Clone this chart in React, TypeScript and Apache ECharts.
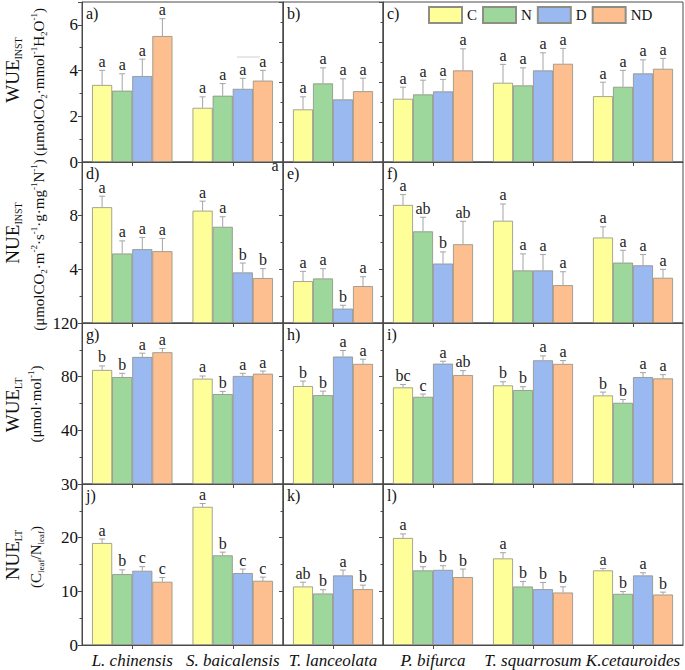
import React, { useEffect, useRef } from 'react';
import * as echarts from 'echarts';

const FONT = '"Liberation Serif", "Times New Roman", serif';

const categories = ['L. chinensis', 'S. baicalensis', 'T. lanceolata', 'P. bifurca', 'T. squarrosum', 'K.cetauroides'];
const treatments = ['C', 'N', 'D', 'ND'];
const treatmentColors = ['#FFFF99', '#9DD79C', '#9BB9F1', '#FDBF8F'];
const panelLabels = ['a)', 'b)', 'c)', 'd)', 'e)', 'f)', 'g)', 'h)', 'i)', 'j)', 'k)', 'l)'];

// rows of each array: C, N, D, ND ; columns follow `categories`
const wueInstMeans = [
  [3.37, 2.37, 2.63, 3.16, 3.96, 3.29],
  [3.12, 2.9, 3.93, 3.38, 3.83, 3.76],
  [3.76, 3.2, 3.13, 3.53, 4.58, 4.43],
  [5.51, 3.56, 3.54, 4.58, 4.91, 4.66],
];
const wueInstErrors = [
  [0.64, 0.48, 0.63, 0.58, 0.92, 0.7],
  [0.74, 0.53, 0.78, 0.71, 0.88, 0.82],
  [0.74, 0.46, 1.03, 0.6, 0.88, 0.68],
  [0.76, 0.45, 0.65, 1.08, 0.77, 0.52],
];
const wueInstLetters = [
  ['a', 'a', 'a', 'a', 'a', 'a'],
  ['a', 'a', 'a', 'a', 'a', 'a'],
  ['a', 'a', 'a', 'a', 'a', 'a'],
  ['a', 'a', 'a', 'a', 'a', 'a'],
];

const nueInstMeans = [
  [8.63, 8.37, 3.12, 8.8, 7.62, 6.37],
  [5.18, 7.17, 3.32, 6.83, 3.92, 4.5],
  [5.5, 3.77, 1.07, 4.43, 3.92, 4.3],
  [5.35, 3.35, 2.75, 5.87, 2.82, 3.37],
];
const nueInstErrors = [
  [0.82, 0.71, 0.73, 0.77, 1.25, 0.8],
  [0.94, 0.75, 0.73, 1.05, 1.23, 0.92],
  [0.88, 0.7, 0.25, 0.87, 1.18, 0.8],
  [0.95, 0.7, 0.7, 1.71, 1.0, 0.63],
];
const nueInstLetters = [
  ['a', 'a', 'a', 'a', 'a', 'a'],
  ['a', 'a', 'a', 'ab', 'a', 'a'],
  ['a', 'b', 'b', 'b', 'a', 'a'],
  ['a', 'b', 'a', 'ab', 'a', 'a'],
];

const wueLtMeans = [
  [85, 78.5, 73, 72, 73.5, 66],
  [79.7, 67, 66.2, 65, 70, 60.5],
  [94.7, 80.5, 95, 89.7, 92.2, 79.7],
  [98.2, 82.2, 89.5, 81.2, 89.5, 78.7],
];
const wueLtErrors = [
  [3, 2, 3.7, 2.2, 2.7, 2.5],
  [2.8, 2, 3, 2, 2.5, 2.5],
  [2.8, 2, 4.5, 1.8, 3.3, 3.3],
  [2.8, 2, 3.5, 3.3, 2.5, 2.8],
];
const wueLtLetters = [
  ['b', 'a', 'b', 'bc', 'b', 'b'],
  ['b', 'b', 'b', 'c', 'b', 'b'],
  ['a', 'a', 'a', 'a', 'a', 'a'],
  ['a', 'a', 'a', 'ab', 'a', 'a'],
];

const nueLtMeans = [
  [19.0, 25.74, 10.9, 19.94, 16.13, 13.9],
  [13.2, 16.7, 9.6, 13.9, 10.9, 9.53],
  [13.83, 13.4, 12.96, 14.0, 10.4, 12.96],
  [11.78, 11.96, 10.4, 12.65, 9.78, 9.4],
];
const nueLtErrors = [
  [0.75, 0.62, 0.8, 0.76, 1.07, 0.36],
  [0.8, 0.6, 0.7, 0.68, 0.94, 0.43],
  [0.77, 0.75, 1.0, 0.77, 1.25, 0.5],
  [0.8, 0.69, 0.75, 1.5, 1.06, 0.45],
];
const nueLtLetters = [
  ['a', 'a', 'ab', 'a', 'a', 'a'],
  ['b', 'b', 'b', 'b', 'b', 'b'],
  ['c', 'c', 'a', 'b', 'b', 'a'],
  ['c', 'c', 'b', 'b', 'b', 'b'],
];

// y tick labels per row (value -> text)
const wueInstTickLabels: Record<number, string> = { 0: '0', 2: '2', 4: '4', 6: '6' };
const nueInstTickLabels: Record<number, string> = { 4: '4', 8: '8' };
const wueLtTickLabels: Record<number, string> = { 0: '30', 40: '40', 80: '80', 120: '120' };
const nueLtTickLabels: Record<number, string> = { 0: '0', 10: '10', 20: '20' };

const metrics = [
  { means: wueInstMeans, errors: wueInstErrors, letters: wueInstLetters, ticks: wueInstTickLabels },
  { means: nueInstMeans, errors: nueInstErrors, letters: nueInstLetters, ticks: nueInstTickLabels },
  { means: wueLtMeans, errors: wueLtErrors, letters: wueLtLetters, ticks: wueLtTickLabels },
  { means: nueLtMeans, errors: nueLtErrors, letters: nueLtLetters, ticks: nueLtTickLabels },
];

// layout
const colCats = [[0, 1], [2], [3, 4, 5]];
const colLeft = [82, 283, 383];
const colWidth = [201, 100, 300];
const rowTop = [2, 162, 323, 484];
const rowHeight = [160, 161, 161, 161];
const rowMax = [[7, 8, 8], [12, 12, 12], [120, 120, 120], [30, 30, 30]];
const rowInterval = [2, 4, 40, 10];

const AXIS = '#4a4a4a';
const ERR = '#a4a4a4';

function titleRich(main: number, small: number) {
  return {
    m: { fontSize: main, fontFamily: FONT, lineHeight: main + 4, fill: '#111' },
    n: { fontSize: small, fontFamily: FONT, lineHeight: small + 4, fill: '#111' },
    s: { fontSize: Math.round(main * 0.55), fontFamily: FONT, lineHeight: Math.round(main * 0.55), verticalAlign: 'bottom', fill: '#111' },
    t: { fontSize: 9, fontFamily: FONT, lineHeight: 9, verticalAlign: 'bottom', fill: '#111' },
    p: { fontSize: 9, fontFamily: FONT, lineHeight: 9, verticalAlign: 'top', fill: '#111' },
  };
}

export default function App() {
  const ref = useRef<HTMLDivElement>(null);
  useEffect(() => {
    if (!ref.current) return;
    const chart = echarts.init(ref.current, undefined, { renderer: 'svg' });
    const grid: any[] = [];
    const xAxis: any[] = [];
    const yAxis: any[] = [];
    const series: any[] = [];
    const graphic: any[] = [];

    for (let r = 0; r < 4; r++) {
      for (let c = 0; c < 3; c++) {
        const g = r * 3 + c;
        const met = metrics[r];
        grid.push({
          left: colLeft[c], top: rowTop[r], width: colWidth[c], height: rowHeight[r],
          show: true, borderColor: AXIS, borderWidth: 1, containLabel: false,
        });
        xAxis.push({
          type: 'category', gridIndex: g,
          data: colCats[c].map((i) => categories[i]),
          axisLine: { show: true, lineStyle: { color: AXIS, width: 1 } },
          axisTick: { show: true, alignWithLabel: true, length: 4, lineStyle: { color: AXIS } },
          axisLabel: { show: r === 3, interval: 0, fontFamily: FONT, fontStyle: 'italic', fontSize: 17, color: '#111', margin: 7 },
          splitLine: { show: false },
        });
        yAxis.push({
          type: 'value', gridIndex: g, min: 0, max: rowMax[r][c], interval: rowInterval[r],
          axisLine: { show: true, lineStyle: { color: AXIS, width: 1 } },
          axisTick: { show: true, length: 4, lineStyle: { color: AXIS } },
          minorTick: { show: true, splitNumber: 2, length: 2.5, lineStyle: { color: AXIS } },
          axisLabel: {
            show: c === 0, fontFamily: FONT, fontSize: 17, color: '#111', margin: 4,
            showMinLabel: true, showMaxLabel: true,
            formatter: (v: number) => met.ticks[v] ?? '',
          },
          splitLine: { show: false },
          minorSplitLine: { show: false },
        });
        for (let k = 0; k < 4; k++) {
          series.push({
            type: 'bar', name: treatments[k], xAxisIndex: g, yAxisIndex: g,
            data: colCats[c].map((i) => met.means[k][i]),
            barGap: '0%', barCategoryGap: '20%',
            itemStyle: { color: treatmentColors[k], borderColor: '#8e8e84', borderWidth: 0.8 },
            silent: true,
          });
        }
        const items: number[][] = [];
        const letters: string[] = [];
        colCats[c].forEach((ci, j) => {
          for (let k = 0; k < 4; k++) {
            items.push([j, k, met.means[k][ci], met.means[k][ci] + met.errors[k][ci]]);
            letters.push(met.letters[k][ci]);
          }
        });
        series.push({
          type: 'custom', xAxisIndex: g, yAxisIndex: g, silent: true, z: 5,
          data: items,
          encode: { x: 0, y: [2, 3] },
          renderItem: (params: any, api: any) => {
            const j = api.value(0);
            const k = api.value(1);
            const m = api.value(2);
            const t = api.value(3);
            const base = api.coord([j, m]);
            const top = api.coord([j, t]);
            const band = api.size([1, 0])[0];
            const bw = (band * 0.8) / 4;
            const x = base[0] + (k - 1.5) * bw;
            return {
              type: 'group',
              children: [
                { type: 'line', shape: { x1: x, y1: base[1], x2: x, y2: top[1] }, style: { stroke: ERR, lineWidth: 1 } },
                { type: 'line', shape: { x1: x - 3, y1: top[1], x2: x + 3, y2: top[1] }, style: { stroke: ERR, lineWidth: 1 } },
                {
                  type: 'text',
                  style: {
                    text: letters[params.dataIndex], x, y: top[1] - 1,
                    align: 'center', verticalAlign: 'bottom',
                    fontSize: 16, fontFamily: FONT, fill: '#222',
                  },
                },
              ],
            };
          },
        });
        graphic.push({
          type: 'text', left: colLeft[c] + 4, top: rowTop[r] + 3,
          style: { text: panelLabels[g], fontSize: 16, fontFamily: FONT, fill: '#111' },
        });
      }
    }

    const titles = [
      { x: 12, y: 70, text: '{m|WUE}{s|INST}' },
      { x: 39, y: 82, text: '{n|(μmolCO}{t|2}{n|·mmol}{p|-1}{n|H}{t|2}{n|O}{p|-1}{n|)}' },
      { x: 12, y: 233, text: '{m|NUE}{s|INST}' },
      { x: 39, y: 245, text: '{n|(μmolCO}{t|2}{n|·m}{p|-2}{n|·s}{p|-1}{n|·g·mg}{p|-1}{n|N}{p|-1}{n|)}' },
      { x: 12, y: 405, text: '{m|WUE}{s|LT}' },
      { x: 36, y: 404, text: '{n|(μmol·mol}{p|-1}{n|)}' },
      { x: 12, y: 555, text: '{m|NUE}{s|LT}' },
      { x: 36, y: 557, text: '{n|(C}{t|leaf}{n|/N}{t|leaf}{n|)}' },
    ];
    titles.forEach((tt) => {
      graphic.push({
        type: 'text', x: tt.x, y: tt.y, rotation: Math.PI / 2,
        style: { text: tt.text, rich: titleRich(19, 15), align: 'center', verticalAlign: 'middle', fill: '#111' },
      });
    });
    graphic.push({
      type: 'text', x: 275, y: 165,
      style: { text: 'a', fontSize: 16, fontFamily: FONT, fill: '#222', align: 'center', verticalAlign: 'middle' },
    });
    graphic.push({
      type: 'line', shape: { x1: 237, y1: 57, x2: 260, y2: 57 }, style: { stroke: '#d0d0d0', lineWidth: 1 },
    });

    chart.setOption({
      animation: false,
      backgroundColor: '#ffffff',
      grid, xAxis, yAxis, series, graphic,
      legend: {
        left: 428, top: 6, padding: 0, itemWidth: 33, itemHeight: 16, itemGap: 5,
        icon: 'rect', selectedMode: false,
        data: treatments,
        textStyle: { fontFamily: FONT, fontSize: 15, color: '#111' },
      },
    });
    return () => chart.dispose();
  }, []);
  return (
    <div
      ref={ref}
      style={{ position: 'fixed', left: 0, top: 0, width: 685, height: 670, background: '#fff' }}
    />
  );
}
